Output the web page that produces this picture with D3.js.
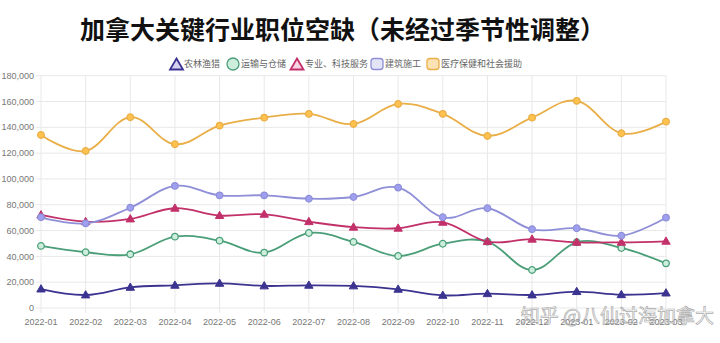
<!DOCTYPE html>
<html><head><meta charset="utf-8">
<script src="https://cdn.jsdelivr.net/npm/d3@7"></script>
<style>
html,body{margin:0;padding:0;background:#fff;}
svg{display:block;}
</style></head>
<body>
<svg id="chart" width="720" height="343"></svg>
<script>
const months = ["2022-01","2022-02","2022-03","2022-04","2022-05","2022-06","2022-07","2022-08","2022-09","2022-10","2022-11","2022-12","2023-01","2023-02","2023-03"];
const yTicks = [0,20000,40000,60000,80000,100000,120000,140000,160000,180000];
const seriesNames = ["农林渔猎","运输与仓储","专业、科技服务","建筑施工","医疗保健和社会援助"];
const agriculture = [14700,10100,16000,17600,19100,17100,17600,17100,14500,9800,11100,10100,12700,10300,11600];
const transport = [48100,43200,41600,55300,52200,42900,58100,51200,40300,49800,51400,29500,50900,46500,34600];
const professional = [72100,66900,69000,77300,71600,72600,66900,62600,61800,66400,51400,53300,50900,50900,51700];
const construction = [70300,65600,77700,94600,87300,87300,84700,86000,93300,70300,77300,61000,61800,56000,70000];
const healthcare = [134100,121700,147800,126900,141300,147500,150400,142600,158100,150400,133300,147500,160500,135400,144400];
const titleText = "加拿大关键行业职位空缺（未经过季节性调整）";
const watermark = "知乎 @八仙过海加拿大";

const styles = [
  {color:"#3b3390", fill:"#d6d3f0", shape:"triangle"},
  {color:"#4a9e78", fill:"#cdeedd", shape:"circle"},
  {color:"#c2306a", fill:"#f6d3e0", shape:"triangle"},
  {color:"#8f8fd8", fill:"#e4e4f7", shape:"rect"},
  {color:"#eaae47", fill:"#fbe3b5", shape:"rect"}
];
const data = [agriculture, transport, professional, construction, healthcare];

const svg = d3.select("#chart");
const pLeft = 41, pRight = 666, pTop = 75.7, pBottom = 308;
const x = d3.scalePoint().domain(months).range([pLeft, pRight]);
const y = d3.scaleLinear().domain([0,180000]).range([pBottom, pTop]);
const font = "'Helvetica Neue', Arial, 'Liberation Sans', 'Noto Sans CJK SC', sans-serif";

// title
svg.append("text").attr("x", 80).attr("y", 39).attr("text-anchor","start")
  .attr("font-family","'Noto Sans CJK SC', sans-serif").attr("font-weight","bold")
  .attr("font-size", 25).attr("textLength", 525).attr("lengthAdjust","spacingAndGlyphs")
  .attr("fill","#111").text(titleText);

// grid
const grid = svg.append("g");
grid.selectAll("line.h").data(yTicks).join("line")
  .attr("x1", pLeft-5).attr("x2", pRight).attr("y1", d=>y(d)).attr("y2", d=>y(d))
  .attr("stroke", "#e8e8e8").attr("stroke-width",1);
grid.selectAll("line.v").data(months).join("line")
  .attr("x1", d=>x(d)).attr("x2", d=>x(d)).attr("y1", pTop).attr("y2", pBottom+5)
  .attr("stroke", "#e8e8e8").attr("stroke-width",1);

// axes labels
const fmt = d3.format(",");
svg.append("g").selectAll("text").data(yTicks).join("text")
  .attr("x", 34).attr("y", d=>y(d)).attr("dy","0.35em").attr("text-anchor","end")
  .attr("font-family", font).attr("font-size", 9).attr("fill","#777").text(d=>fmt(d));
svg.append("g").selectAll("text").data(months).join("text")
  .attr("x", d=>x(d)).attr("y", 325).attr("text-anchor","middle")
  .attr("font-family", font).attr("font-size", 9).attr("fill","#777").text(d=>d);

// lines
const line = d3.line().x((d,i)=>x(months[i])).y(d=>y(d)).curve(d3.curveCardinal.tension(-0.1));
const triPath = (s)=>`M0,${-s*0.62}L${s*0.6},${s*0.42}L${-s*0.6},${s*0.42}Z`;
data.forEach((vals, si) => {
  const st = styles[si];
  const g = svg.append("g");
  g.append("path").datum(vals).attr("d", line).attr("fill","none")
    .attr("stroke", st.color).attr("stroke-width", 1.8);
  const pts = g.selectAll("g.pt").data(vals).join("g")
    .attr("transform", (d,i)=>`translate(${x(months[i])},${y(d)})`);
  if (st.shape === "triangle") {
    pts.append("path").attr("d", triPath(7)).attr("fill", st.color).attr("stroke", st.color).attr("stroke-width",1);
  } else {
    pts.append("circle").attr("r", 3.3).attr("fill", st.shape==="circle" ? st.fill : d3.color(st.color).brighter(0.3))
      .attr("stroke", st.color).attr("stroke-width", 1.3);
  }
});

// legend
const legendItems = [
  {mx:176.5, tx:184},
  {mx:233, tx:241},
  {mx:297, tx:305},
  {mx:377, tx:385},
  {mx:433, tx:441}
];
const lg = svg.append("g");
seriesNames.forEach((name, i) => {
  const st = styles[i], p = legendItems[i], cy = 64;
  if (st.shape === "triangle") {
    lg.append("path").attr("transform",`translate(${p.mx},${cy+0.5})`)
      .attr("d", `M0,-6L6.5,5L-6.5,5Z`).attr("fill", st.fill).attr("stroke", st.color).attr("stroke-width",1.8);
  } else if (st.shape === "circle") {
    lg.append("circle").attr("cx", p.mx).attr("cy", cy).attr("r", 6)
      .attr("fill", st.fill).attr("stroke", st.color).attr("stroke-width",1.3);
  } else {
    lg.append("rect").attr("x", p.mx-6).attr("y", cy-5.5).attr("width", 12).attr("height", 11).attr("rx",3)
      .attr("fill", st.fill).attr("stroke", st.color).attr("stroke-width",1.3);
  }
  lg.append("text").attr("x", p.tx).attr("y", cy).attr("dy","0.35em")
    .attr("font-family","'Noto Sans CJK SC', sans-serif").attr("font-size", 9).attr("fill","#666").text(name);
});

// watermark
svg.append("text").attr("x", 714).attr("y", 323).attr("text-anchor","end")
  .attr("font-family","'Noto Sans CJK SC', sans-serif").attr("font-size", 19)
  .attr("fill","#ffffff").attr("fill-opacity",0.6).attr("stroke","#999").attr("stroke-width",0.7).attr("opacity",0.8).text(watermark);
</script>
</body></html>
